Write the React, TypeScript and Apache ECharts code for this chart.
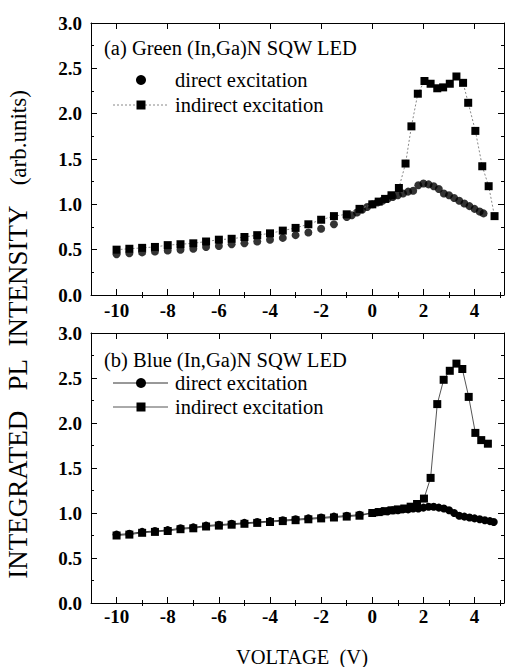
import React, { useEffect, useRef } from "react";
import * as echarts from "echarts";

// ---- Data ----
const topDirectV = [-10, -9.5, -9, -8.5, -8, -7.5, -7, -6.5, -6, -5.5, -5, -4.5, -4, -3.5, -3, -2.5, -2, -1.5, -1,
  -0.8, -0.6, -0.4, -0.2,
  0, 0.2, 0.4, 0.6, 0.8, 1.0, 1.2, 1.4, 1.6, 1.8, 2.0, 2.2, 2.4, 2.6, 2.8, 3.0, 3.2, 3.4, 3.6, 3.8, 4.0, 4.2, 4.35];
const topDirectI = [0.45, 0.46, 0.47, 0.48, 0.49, 0.50, 0.51, 0.53, 0.54, 0.56, 0.57, 0.59, 0.61, 0.63, 0.66, 0.69, 0.73, 0.78, 0.86,
  0.88, 0.91, 0.94, 0.97,
  1.00, 1.02, 1.04, 1.06, 1.08, 1.10, 1.12, 1.14, 1.15, 1.21, 1.23, 1.22, 1.20, 1.17, 1.12, 1.10, 1.07, 1.04, 1.01, 0.98, 0.95, 0.92, 0.90];

const topIndirectV = [-10, -9.5, -9, -8.5, -8, -7.5, -7, -6.5, -6, -5.5, -5, -4.5, -4, -3.5, -3, -2.5, -2, -1.5, -1, -0.5,
  0, 0.25, 0.5, 0.75, 1.04, 1.30, 1.53, 1.78, 2.04, 2.28, 2.54, 2.77, 3.03, 3.29, 3.55, 3.75, 4.03, 4.30, 4.55, 4.78];
const topIndirectI = [0.50, 0.51, 0.52, 0.53, 0.55, 0.56, 0.57, 0.59, 0.61, 0.62, 0.64, 0.66, 0.68, 0.71, 0.74, 0.78, 0.83, 0.87, 0.89, 0.95,
  1.00, 1.03, 1.06, 1.10, 1.18, 1.45, 1.86, 2.22, 2.36, 2.33, 2.28, 2.29, 2.33, 2.41, 2.34, 2.12, 1.81, 1.42, 1.20, 0.87];

const botDirectV = [-10, -9.5, -9, -8.5, -8, -7.5, -7, -6.5, -6, -5.5, -5, -4.5, -4, -3.5, -3, -2.5, -2, -1.5, -1, -0.5,
  0, 0.2, 0.4, 0.6, 0.8, 1.0, 1.2, 1.4, 1.6, 1.8, 2.0, 2.2, 2.4, 2.6, 2.8, 3.0, 3.2, 3.4, 3.6, 3.8, 4.0, 4.2, 4.4, 4.6, 4.75];
const botDirectI = [0.76, 0.77, 0.79, 0.80, 0.81, 0.83, 0.84, 0.86, 0.87, 0.88, 0.89, 0.90, 0.91, 0.92, 0.93, 0.94, 0.95, 0.96, 0.97, 0.98,
  1.00, 1.01, 1.02, 1.02, 1.03, 1.03, 1.04, 1.04, 1.05, 1.05, 1.06, 1.07, 1.07, 1.06, 1.05, 1.03, 1.00, 0.97, 0.96, 0.95, 0.94, 0.93, 0.92, 0.91, 0.90];

const botIndirectV = [-10, -9.5, -9, -8.5, -8, -7.5, -7, -6.5, -6, -5.5, -5, -4.5, -4, -3.5, -3, -2.5, -2, -1.5, -1, -0.5,
  0, 0.25, 0.5, 0.75, 1.0, 1.25, 1.5, 1.75, 2.02, 2.28, 2.54, 2.79, 3.03, 3.29, 3.52, 3.77, 4.03, 4.26, 4.52];
const botIndirectI = [0.75, 0.76, 0.78, 0.79, 0.80, 0.82, 0.83, 0.85, 0.86, 0.87, 0.88, 0.89, 0.90, 0.91, 0.92, 0.93, 0.94, 0.95, 0.96, 0.97,
  1.00, 1.01, 1.02, 1.03, 1.04, 1.05, 1.07, 1.10, 1.16, 1.39, 2.21, 2.48, 2.58, 2.66, 2.60, 2.29, 1.89, 1.81, 1.77];

const xMajorTicks = [-10, -8, -6, -4, -2, 0, 2, 4];
const xMinorTicks = [-9, -7, -5, -3, -1, 1, 3, 5];

const panelTitles = ["(a) Green (In,Ga)N SQW LED", "(b) Blue (In,Ga)N SQW LED"];
const legendNames = ["direct excitation", "indirect excitation"];
const xTitle = "VOLTAGE  (V)";
const yTitleMain = "INTEGRATED   PL  INTENSITY   ";
const yTitleUnit = "(arb.units)";

const FONT = "Liberation Serif";

function pairs(xs: number[], ys: number[]) {
  return xs.map((x, i) => [x, ys[i]]);
}

export default function App() {
  const ref = useRef<HTMLDivElement>(null);

  useEffect(() => {
    const chart = echarts.init(ref.current!, null, { renderer: "svg" });

    const grids = [
      { left: 91, top: 23, width: 413, height: 272 },
      { left: 91, top: 333, width: 413, height: 270 },
    ];

    const tickFont = { fontFamily: FONT, fontSize: 19, fontWeight: "bold" as const, color: "#000" };
    const lineStyle = { color: "#000", width: 1 };

    const xAxes: any[] = [];
    const yAxes: any[] = [];
    grids.forEach((_, gi) => {
      const base = { type: "value", gridIndex: gi, min: -11, max: 5.15, splitLine: { show: false } };
      xAxes.push({
        ...base,
        position: "bottom",
        axisLine: { show: true, onZero: false, lineStyle },
        axisTick: { show: true, inside: true, length: 6, customValues: xMajorTicks, lineStyle },
        axisLabel: { show: true, customValues: xMajorTicks, margin: gi === 0 ? 6 : 4, ...tickFont, formatter: (v: number) => String(v) },
      });
      xAxes.push({
        ...base,
        position: "bottom",
        axisLine: { show: false },
        axisTick: { show: true, inside: true, length: 3, customValues: xMinorTicks, lineStyle },
        axisLabel: { show: false },
      });
      xAxes.push({
        ...base,
        position: "top",
        axisLine: { show: true, onZero: false, lineStyle },
        axisTick: { show: true, inside: true, length: 6, customValues: xMajorTicks, lineStyle },
        axisLabel: { show: false },
      });
      xAxes.push({
        ...base,
        position: "top",
        axisLine: { show: false },
        axisTick: { show: true, inside: true, length: 3, customValues: xMinorTicks, lineStyle },
        axisLabel: { show: false },
      });
      const yBase = {
        type: "value",
        gridIndex: gi,
        min: 0,
        max: 3,
        interval: 0.5,
        splitLine: { show: false },
        axisLine: { show: true, onZero: false, lineStyle },
        axisTick: { show: true, inside: true, length: 6, lineStyle },
        minorTick: { show: true, splitNumber: 2, length: 3, lineStyle },
      };
      yAxes.push({
        ...yBase,
        position: "left",
        axisLabel: { show: true, margin: 9, ...tickFont, formatter: (v: number) => v.toFixed(1) },
      });
      yAxes.push({
        ...yBase,
        position: "right",
        axisLabel: { show: false },
      });
    });

    const legendText = { fontFamily: FONT, fontSize: 20.5, fill: "#000" };

    const graphics: any[] = [];
    const panelTop = [48, 360];
    const legY = [[80, 105], [383, 407]];
    panelTop.forEach((ty, gi) => {
      graphics.push({
        type: "text", x: 104, y: ty,
        style: { text: panelTitles[gi], ...legendText, textAlign: "left", textVerticalAlign: "middle" },
      });
      const [y1, y2] = legY[gi];
      if (gi === 1) {
        graphics.push({ type: "line", shape: { x1: 113, y1, x2: 168, y2: y1 }, style: { stroke: "#333", lineWidth: 1 } });
      }
      graphics.push({ type: "circle", shape: { cx: 141, cy: y1, r: 5 }, style: { fill: "#000" } });
      graphics.push({
        type: "text", x: 175, y: y1,
        style: { text: legendNames[0], ...legendText, textAlign: "left", textVerticalAlign: "middle" },
      });
      graphics.push({
        type: "line", shape: { x1: 113, y1: y2, x2: 168, y2 },
        style: gi === 0 ? { stroke: "#888", lineWidth: 1, lineDash: [2, 2] } : { stroke: "#555", lineWidth: 1 },
      });
      graphics.push({ type: "rect", shape: { x: 136.5, y: y2 - 4.5, width: 9, height: 9 }, style: { fill: "#000" } });
      graphics.push({
        type: "text", x: 175, y: y2,
        style: { text: legendNames[1], ...legendText, textAlign: "left", textVerticalAlign: "middle" },
      });
    });

    graphics.push({
      type: "text", x: 302, y: 657,
      style: { text: xTitle, fontFamily: FONT, fontSize: 20.5, fill: "#000", textAlign: "center", textVerticalAlign: "middle" },
    });
    graphics.push({
      type: "text", x: 18, y: 335, rotation: Math.PI / 2,
      style: {
        text: "{a|" + yTitleMain + "}{b|" + yTitleUnit + "}",
        rich: {
          a: { fontFamily: FONT, fontSize: 27, fill: "#000" },
          b: { fontFamily: FONT, fontSize: 23, fill: "#000" },
        },
        textAlign: "center",
        textVerticalAlign: "middle",
      },
    });

    chart.setOption({
      animation: false,
      backgroundColor: "#fff",
      grid: grids,
      xAxis: xAxes,
      yAxis: yAxes,
      graphic: graphics,
      series: [
        {
          type: "line", name: "top indirect", xAxisIndex: 0, yAxisIndex: 0,
          data: pairs(topIndirectV, topIndirectI),
          symbol: "rect", symbolSize: 8, showAllSymbol: true,
          itemStyle: { color: "#000" },
          lineStyle: { color: "#888", width: 1, type: [2, 2] },
        },
        {
          type: "scatter", name: "top direct", xAxisIndex: 0, yAxisIndex: 0,
          data: pairs(topDirectV, topDirectI),
          symbol: "circle", symbolSize: 8,
          itemStyle: { color: "#000" },
        },
        {
          type: "line", name: "bottom indirect", xAxisIndex: 4, yAxisIndex: 2,
          data: pairs(botIndirectV, botIndirectI),
          symbol: "rect", symbolSize: 8, showAllSymbol: true,
          itemStyle: { color: "#000" },
          lineStyle: { color: "#555", width: 1 },
        },
        {
          type: "line", name: "bottom direct", xAxisIndex: 4, yAxisIndex: 2,
          data: pairs(botDirectV, botDirectI),
          symbol: "circle", symbolSize: 8, showAllSymbol: true,
          itemStyle: { color: "#000" },
          lineStyle: { color: "#333", width: 1 },
        },
      ],
    });

    return () => chart.dispose();
  }, []);

  return (
    <div
      ref={ref}
      style={{ position: "absolute", left: 0, top: 0, width: 505, height: 667, background: "#fff" }}
    />
  );
}
